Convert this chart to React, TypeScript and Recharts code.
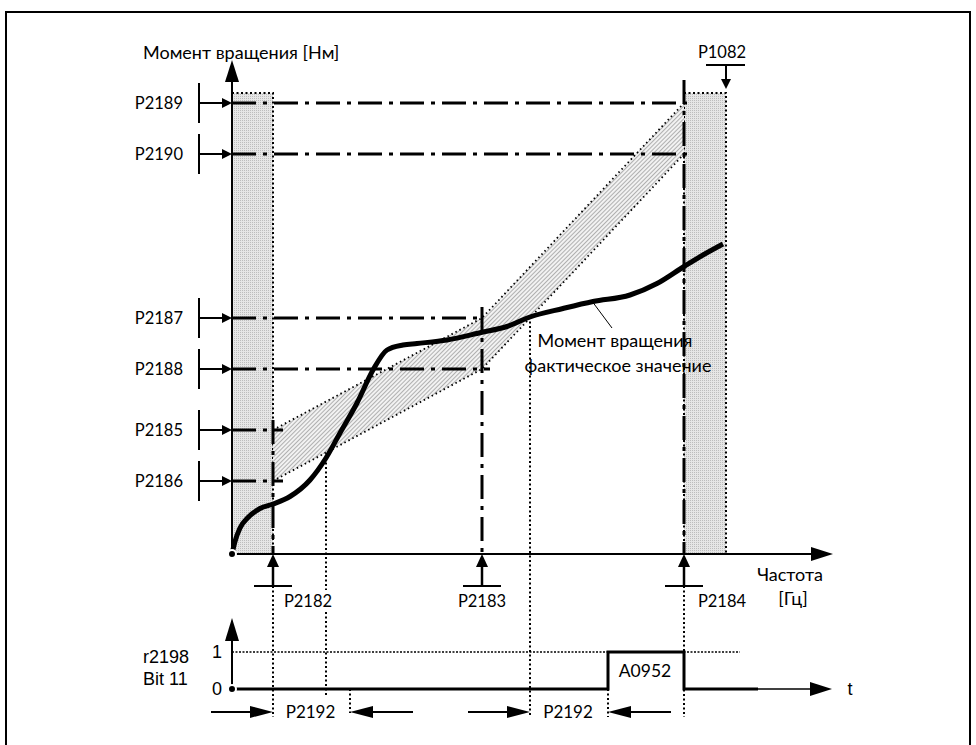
import { ComposedChart, XAxis, YAxis, Line, Area, ReferenceLine, ReferenceArea, ReferenceDot } from 'recharts';

// torque thresholds (Nm)
const levelNames = ['P2189', 'P2190', 'P2187', 'P2188', 'P2185', 'P2186'];
const levelNm = [90.2, 80, 47.2, 37, 24.8, 14.6];
const levelEndHz = [46, 46, 25.2, 25.8, 5.1, 5.1];

// frequency thresholds (Hz)
const freqNames = ['P2182', 'P2183', 'P2184'];
const freqHz = [4.1, 25, 45.2];
const maxFreqHz = 49.4; // P1082
const bandTopNm = 92.2;

// tolerance band corners
const bandHz = [4.1, 25, 45.2];
const bandHighNm = [24.8, 47.2, 90.2];
const bandLowNm = [14.6, 37, 80];

// actual torque curve
const actualHz = [0, 0.3, 0.8, 1.6, 2.8, 4.1, 5.8, 7.8, 9.4, 10.8, 12.5, 14.1, 15.5, 17.1, 18.5, 21.5, 24.9, 27.5, 29.8, 33.1, 36.1, 39.8, 42.5, 45.2, 47.1, 49.1];
const actualNm = [0, 2.5, 5.2, 7.3, 9.1, 10, 11.5, 14.8, 19.2, 24.2, 30.2, 36.8, 40.8, 41.8, 42.1, 42.8, 44.3, 45.5, 47.4, 49.1, 50.5, 51.8, 54.1, 57.5, 59.8, 62];

// r2198 bit 11
const bitHz = [0, 37.6, 45.2, 52.6];
const bitValue = [0, 1, 0, 0];
const delayHz = [[4.1, 11.8], [29.8, 37.6]];

const curveData = actualHz.map((f, i) => ({ f, nm: actualNm[i] }));
const bandData = bandHz.map((f, i) => ({ f, band: [bandLowNm[i], bandHighNm[i]] }));
const bitData = bitHz.map((f, i) => ({ f, bit: bitValue[i] }));

const FONT = 'Lato, "Open Sans", sans-serif';
const ARIAL = '"Liberation Sans", Arial, sans-serif';
const DASHDOT = '24 7 4 7';
const DOT = '2 2.5';

type Pt = { cx?: number; cy?: number };

const txt = (text: string, anchor: 'start' | 'middle' | 'end' = 'middle', size = 16.5, family = FONT, base: 'central' | 'alphabetic' = 'central') =>
  (p: Pt) => (
    <text x={p.cx ?? 0} y={p.cy ?? 0} textAnchor={anchor} dominantBaseline={base} fontSize={size} fontFamily={family} fill="#000">
      {text}
    </text>
  );

const head = (dir: 'up' | 'down' | 'left' | 'right', len: number, half: number) => (p: Pt) => {
  const x = p.cx ?? 0;
  const y = p.cy ?? 0;
  let pts = '';
  if (dir === 'up') pts = `${x},${y} ${x - half},${y + len} ${x + half},${y + len}`;
  if (dir === 'down') pts = `${x},${y} ${x - half},${y - len} ${x + half},${y - len}`;
  if (dir === 'right') pts = `${x},${y} ${x - len},${y - half} ${x - len},${y + half}`;
  if (dir === 'left') pts = `${x},${y} ${x + len},${y - half} ${x + len},${y + half}`;
  return <polygon points={pts} fill="#000" />;
};

export default function App() {
  return (
    <div style={{ position: 'fixed', left: 0, top: 0, width: 976, height: 745, background: '#fff', overflow: 'hidden' }}>
      <div style={{ position: 'absolute', left: 5, top: 11, width: 962, height: 800, border: '2px solid #000' }} />
      <div style={{ position: 'absolute', left: 0, top: 0 }}>
        <ComposedChart width={976} height={745} margin={{ top: 0, right: 0, bottom: 0, left: 0 }}>
          <defs>
            <pattern id="stip" width="2" height="2" patternUnits="userSpaceOnUse">
              <rect width="2" height="2" fill="#e6e6e6" />
              <rect width="1" height="1" fill="#bdbdbd" />
            </pattern>
            <pattern id="hatch" width="3" height="3" patternUnits="userSpaceOnUse" patternTransform="rotate(45)">
              <rect width="3" height="3" fill="#f2f2f2" />
              <line x1="0" y1="0" x2="0" y2="3" stroke="#8c8c8c" strokeWidth="1.3" />
            </pattern>
          </defs>
          <XAxis dataKey="f" type="number" domain={[-23.2, 74.4]} allowDataOverflow hide />
          <YAxis yAxisId="tq" type="number" domain={[-38.2, 110.8]} allowDataOverflow hide />
          <YAxis yAxisId="bit" type="number" domain={[-1.5135, 18.62]} allowDataOverflow hide />

          {/* grey bands */}
          <ReferenceArea yAxisId="tq" x1={0} x2={freqHz[0]} y1={0} y2={bandTopNm} fill="url(#stip)" fillOpacity={1} stroke="#000" strokeWidth={2} strokeDasharray={DOT} />
          <ReferenceArea yAxisId="tq" x1={freqHz[2]} x2={maxFreqHz} y1={0} y2={bandTopNm} fill="url(#stip)" fillOpacity={1} stroke="#000" strokeWidth={2} strokeDasharray={DOT} />

          {/* tolerance band */}
          <Area yAxisId="tq" data={bandData} dataKey="band" type="linear" fill="url(#hatch)" fillOpacity={1} stroke="#000" strokeWidth={1.8} strokeDasharray="1.5 3" isAnimationActive={false} />

          {/* threshold lines */}
          {levelNm.map((v, i) => (
            <ReferenceLine key={'h' + i} yAxisId="tq" segment={[{ x: 0, y: v }, { x: levelEndHz[i], y: v }]} stroke="#000" strokeWidth={3} strokeDasharray={DASHDOT} />
          ))}
          <ReferenceLine yAxisId="tq" segment={[{ x: freqHz[0], y: 26.8 }, { x: freqHz[0], y: 0 }]} stroke="#000" strokeWidth={3} strokeDasharray={DASHDOT} />
          <ReferenceLine yAxisId="tq" segment={[{ x: freqHz[1], y: 49.4 }, { x: freqHz[1], y: 0 }]} stroke="#000" strokeWidth={3} strokeDasharray={DASHDOT} />
          <ReferenceLine yAxisId="tq" segment={[{ x: freqHz[2], y: 94.8 }, { x: freqHz[2], y: 0 }]} stroke="#000" strokeWidth={3} strokeDasharray={DASHDOT} />

          {/* dotted verticals */}
          <ReferenceLine yAxisId="tq" segment={[{ x: freqHz[0], y: -6.4 }, { x: freqHz[0], y: -32.6 }]} stroke="#000" strokeWidth={2} strokeDasharray={DOT} />
          <ReferenceLine yAxisId="tq" segment={[{ x: freqHz[2], y: -6.4 }, { x: freqHz[2], y: -32.6 }]} stroke="#000" strokeWidth={2} strokeDasharray={DOT} />
          <ReferenceLine yAxisId="tq" segment={[{ x: 9.4, y: 19.2 }, { x: 9.4, y: -7.2 }]} stroke="#000" strokeWidth={2} strokeDasharray={DOT} />
          <ReferenceLine yAxisId="tq" segment={[{ x: 9.4, y: -11.6 }, { x: 9.4, y: -28.6 }]} stroke="#000" strokeWidth={2} strokeDasharray={DOT} />
          <ReferenceLine yAxisId="tq" segment={[{ x: 29.8, y: 47.4 }, { x: 29.8, y: -32.6 }]} stroke="#000" strokeWidth={2} strokeDasharray={DOT} />
          <ReferenceLine yAxisId="bit" segment={[{ x: delayHz[0][1], y: 0 }, { x: delayHz[0][1], y: -0.65 }]} stroke="#000" strokeWidth={2} strokeDasharray={DOT} />
          <ReferenceLine yAxisId="bit" segment={[{ x: delayHz[1][1], y: 0 }, { x: delayHz[1][1], y: -0.76 }]} stroke="#000" strokeWidth={2} strokeDasharray={DOT} />

          {/* actual torque */}
          <Line yAxisId="tq" data={curveData} dataKey="nm" type="monotone" stroke="#000" strokeWidth={5} dot={false} isAnimationActive={false} />
          <ReferenceLine yAxisId="tq" segment={[{ x: 36.1, y: 50.3 }, { x: 38, y: 45.2 }]} stroke="#000" strokeWidth={1} />
          <ReferenceDot yAxisId="tq" x={38.3} y={41.4} r={0} shape={txt('Момент вращения', 'middle', 18, FONT, 'alphabetic')} />
          <ReferenceDot yAxisId="tq" x={38.6} y={36.4} r={0} shape={txt('фактическое значение', 'middle', 18, FONT, 'alphabetic')} />

          {/* axes */}
          <ReferenceLine yAxisId="tq" segment={[{ x: 0, y: 0 }, { x: 0, y: 94.4 }]} stroke="#000" strokeWidth={2} />
          <ReferenceDot yAxisId="tq" x={0} y={98.8} r={0} shape={head('up', 22, 7)} />
          <ReferenceLine yAxisId="tq" segment={[{ x: 0, y: 0 }, { x: 58, y: 0 }]} stroke="#000" strokeWidth={2} />
          <ReferenceDot yAxisId="tq" x={60.1} y={0} r={0} shape={head('right', 22, 7)} />
          <ReferenceDot yAxisId="tq" x={-8.9} y={99} r={0} shape={txt('Момент вращения [Нм]', 'start', 18, FONT, 'alphabetic')} />
          <ReferenceDot yAxisId="tq" x={55.8} y={-5.4} r={0} shape={txt('Частота', 'middle', 18, FONT, 'alphabetic')} />
          <ReferenceDot yAxisId="tq" x={56.1} y={-10.2} r={0} shape={txt('[Гц]', 'middle', 18, FONT, 'alphabetic')} />

          {/* torque threshold markers */}
          {levelNm.map((v, i) => (
            <ReferenceLine key={'b' + i} yAxisId="tq" segment={[{ x: -3.3, y: v + 4 }, { x: -3.3, y: v - 4 }]} stroke="#000" strokeWidth={2} />
          ))}
          {levelNm.map((v, i) => (
            <ReferenceLine key={'a' + i} yAxisId="tq" segment={[{ x: -3.3, y: v }, { x: -0.8, y: v }]} stroke="#000" strokeWidth={2} />
          ))}
          {levelNm.map((v, i) => (
            <ReferenceDot key={'d' + i} yAxisId="tq" x={0} y={v} r={0} shape={head('right', 10, 5)} />
          ))}
          {levelNm.map((v, i) => (
            <ReferenceDot key={'t' + i} yAxisId="tq" x={-4.9} y={v} r={0} shape={txt(levelNames[i], 'end')} />
          ))}

          {/* frequency threshold markers */}
          {freqHz.map((f, i) => (
            <ReferenceLine key={'fs' + i} yAxisId="tq" segment={[{ x: f, y: -2 }, { x: f, y: -6.4 }]} stroke="#000" strokeWidth={2.5} />
          ))}
          {freqHz.map((f, i) => (
            <ReferenceLine key={'fb' + i} yAxisId="tq" segment={[{ x: f - 1.9, y: -6.4 }, { x: f + 1.9, y: -6.4 }]} stroke="#000" strokeWidth={2} />
          ))}
          {freqHz.map((f, i) => (
            <ReferenceDot key={'fh' + i} yAxisId="tq" x={f} y={0} r={0} shape={head('up', 13, 6)} />
          ))}
          {freqHz.map((f, i) => (
            <ReferenceDot key={'ft' + i} yAxisId="tq" x={f + [3.5, 0, 3.8][i]} y={-10.6} r={0} shape={txt(freqNames[i], 'middle', 16.5, FONT, 'alphabetic')} />
          ))}

          {/* P1082 */}
          <ReferenceLine yAxisId="tq" segment={[{ x: maxFreqHz - 2, y: 97.8 }, { x: maxFreqHz + 1.9, y: 97.8 }]} stroke="#000" strokeWidth={2} />
          <ReferenceLine yAxisId="tq" segment={[{ x: maxFreqHz, y: 97.8 }, { x: maxFreqHz, y: 94.5 }]} stroke="#000" strokeWidth={2} />
          <ReferenceDot yAxisId="tq" x={maxFreqHz} y={bandTopNm + 0.8} r={0} shape={head('down', 10, 5)} />
          <ReferenceDot yAxisId="tq" x={maxFreqHz - 0.4} y={99.2} r={0} shape={txt('P1082', 'middle', 16.5, FONT, 'alphabetic')} />

          {/* r2198 bit 11 */}
          <ReferenceLine yAxisId="bit" segment={[{ x: 0, y: 1 }, { x: 50.8, y: 1 }]} stroke="#000" strokeWidth={1.5} strokeDasharray="2 1.5" />
          <ReferenceLine yAxisId="bit" segment={[{ x: 0, y: 0 }, { x: 0, y: 1.3 }]} stroke="#000" strokeWidth={2} />
          <ReferenceDot yAxisId="bit" x={0} y={1.92} r={0} shape={head('up', 23, 7)} />
          <ReferenceLine yAxisId="bit" segment={[{ x: 52, y: 0 }, { x: 58, y: 0 }]} stroke="#000" strokeWidth={1.5} />
          <ReferenceDot yAxisId="bit" x={60} y={0} r={0} shape={head('right', 22, 7)} />
          <Line yAxisId="bit" data={bitData} dataKey="bit" type="stepAfter" stroke="#000" strokeWidth={3} dot={false} isAnimationActive={false} />
          <ReferenceDot yAxisId="bit" x={61.8} y={0} r={0} shape={txt('t', 'middle', 18, ARIAL)} />
          <ReferenceDot yAxisId="bit" x={-1.5} y={1} r={0} shape={txt('1', 'middle', 18, ARIAL)} />
          <ReferenceDot yAxisId="bit" x={-1.5} y={0} r={0} shape={txt('0', 'middle', 18, ARIAL)} />
          <ReferenceDot yAxisId="bit" x={-8.9} y={0.865} r={0} shape={txt('r2198', 'start', 18, ARIAL)} />
          <ReferenceDot yAxisId="bit" x={-8.9} y={0.27} r={0} shape={txt('Bit 11', 'start', 18, ARIAL)} />
          <ReferenceDot yAxisId="bit" x={41.3} y={0.49} r={0} shape={txt('A0952', 'middle', 17.5)} />

          {/* P2192 delays */}
          {delayHz.map((d, i) => (
            <ReferenceLine key={'dl' + i} yAxisId="bit" segment={[{ x: d[0] - 6.2, y: -0.62 }, { x: d[0] - 2, y: -0.62 }]} stroke="#000" strokeWidth={2} />
          ))}
          {delayHz.map((d, i) => (
            <ReferenceDot key={'dh' + i} yAxisId="bit" x={d[0]} y={-0.62} r={0} shape={head('right', 23, 6)} />
          ))}
          {delayHz.map((d, i) => (
            <ReferenceLine key={'dr' + i} yAxisId="bit" segment={[{ x: d[1] + 2, y: -0.62 }, { x: d[1] + 6.3, y: -0.62 }]} stroke="#000" strokeWidth={2} />
          ))}
          {delayHz.map((d, i) => (
            <ReferenceDot key={'dk' + i} yAxisId="bit" x={d[1]} y={-0.62} r={0} shape={head('left', 23, 6)} />
          ))}
          {delayHz.map((d, i) => (
            <ReferenceDot key={'dt' + i} yAxisId="bit" x={(d[0] + d[1]) / 2 - 0.1} y={-0.62} r={0} shape={txt('P2192', 'middle', 17)} />
          ))}
        </ComposedChart>
      </div>
    </div>
  );
}
